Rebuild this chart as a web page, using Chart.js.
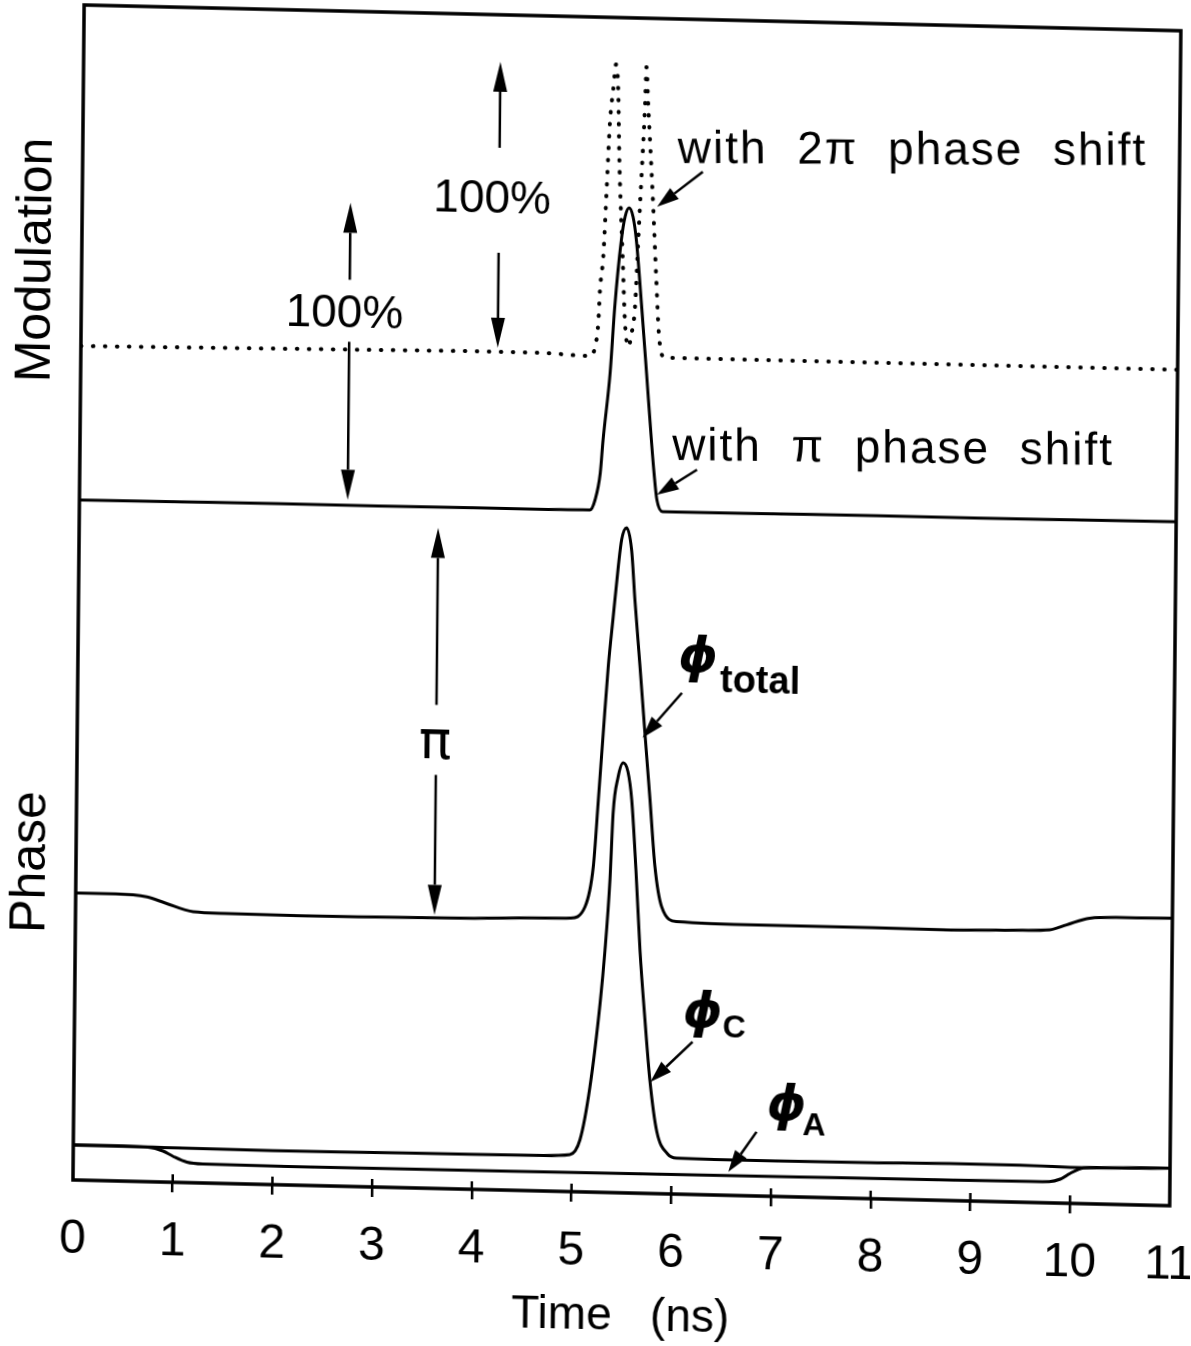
<!DOCTYPE html>
<html>
<head>
<meta charset="utf-8">
<title>Modulation and phase vs time</title>
<script src="https://cdn.jsdelivr.net/npm/chart.js@4.4.1/dist/chart.umd.min.js"></script>
<style>
  html, body { margin: 0; padding: 0; background: #fff; overflow: hidden; }
  #wrap { position: relative; width: 1191px; height: 1346px; }
  /* the scanned figure is slightly skewed; follow it */
  #chart { position: absolute; left: 0; top: 0; transform-origin: 73px 1180px; transform: matrix(1, 0.0235, -0.0095, 1, 0, 0); }
</style>
</head>
<body>
<div id="wrap"><canvas id="chart" width="1191" height="1346"></canvas></div>
<script>
(function () {
  'use strict';

  // x axis: time in ns
  var timeTicks = [0, 1, 2, 3, 4, 5, 6, 7, 8, 9, 10, 11];

  // y is an arbitrary vertical offset (curves are stacked, no y scale shown)
  // modulation with pi phase shift (solid)
  var piShiftT = [0, 1, 2, 3, 4, 4.6, 5.05, 5.12, 5.17, 5.22, 5.245, 5.31, 5.35, 5.41, 5.445, 5.485, 5.525, 5.56, 5.62, 5.675, 5.73, 5.76, 5.79, 5.85, 6.0, 7, 8, 9, 10, 11];
  var piShiftV = [680, 680.5, 681, 681, 681.5, 681.5, 682, 682, 692, 719, 752, 820, 886, 953, 976, 985, 976, 953, 886, 820, 753, 720, 694, 682, 682, 682.5, 683, 683, 683.5, 684];

  // modulation with 2pi phase shift (dotted)
  var twoPiT = [0, 1, 2, 3, 4, 4.6, 5.07, 5.12, 5.155, 5.186, 5.2, 5.23, 5.257, 5.284, 5.314, 5.339, 5.364, 5.381, 5.4, 5.424, 5.454, 5.489, 5.522, 5.553, 5.579, 5.607, 5.634, 5.645, 5.667, 5.687, 5.726, 5.76, 5.8, 5.858, 6.0, 7, 8, 9, 10, 11];
  var twoPiV = [834, 835, 836, 837, 838, 838, 836, 836, 845, 869, 902, 936, 1002, 1070, 1103, 1128, 1103, 1036, 987, 936, 870, 846, 860, 886, 953, 1020, 1087, 1126, 1087, 1054, 987, 921, 854, 836, 836, 836, 836, 836, 836, 836];

  // phase: total
  var phiTotalT = [0, 0.4, 0.715, 0.9, 1.18, 1.5, 2.25, 3, 4, 4.76, 4.96, 5.108, 5.188, 5.232, 5.275, 5.319, 5.364, 5.41, 5.441, 5.49, 5.542, 5.58, 5.637, 5.693, 5.75, 5.806, 5.877, 6.03, 6.865, 8, 8.77, 9.5, 9.77, 9.94, 10.17, 10.5, 11];
  var phiTotalV = [287, 287, 284.7, 279, 271, 270, 269.5, 270, 271, 273, 273.4, 285, 325.5, 392, 459.5, 526, 576, 626, 653, 665, 643, 593, 527, 460, 394, 327, 287, 272.5, 271, 271, 270.6, 272, 273, 278.4, 285.6, 287, 287.4];

  // phase: phi C
  var phiCT = [0, 0.5, 1, 2, 3, 4, 4.7, 4.98, 5.08, 5.175, 5.27, 5.313, 5.356, 5.382, 5.427, 5.478, 5.527, 5.567, 5.616, 5.664, 5.721, 5.776, 5.85, 5.96, 6.05, 7, 8, 8.79, 9.5, 10.13, 11];
  var phiCV = [35, 35, 34.5, 34, 34.5, 35, 35.5, 37, 52, 105, 190, 242, 312, 380, 415, 430, 421, 393, 323, 243, 173, 113, 62, 40, 36, 35.5, 36, 37, 37, 36, 37.5];

  // phase: phi A
  var phiAT = [0, 0.5, 0.75, 0.9, 1.0, 1.14, 1.3, 2.28, 3.28, 5, 7.29, 8.79, 9.6, 9.79, 9.9, 10.0, 10.13, 10.3, 11];
  var phiAV = [35, 35, 34.5, 31, 26, 20.5, 19, 18.6, 18.7, 19.3, 20.1, 20.6, 21, 21.3, 24, 30, 35.7, 36.5, 37.5];

  var FONT = '"Liberation Sans", Arial, Helvetica, sans-serif';

  // text labels placed in data coordinates (tilt undoes part of the page skew)
  var notes = [
    { text: 'with  2\u03c0  phase  shift', x: 5.97, y: 1031, font: '46px ' + FONT, align: 'left', spacing: '2px', tilt: -0.019 },
    { text: 'with  \u03c0  phase  shift', x: 5.94, y: 734, font: '46px ' + FONT, align: 'left', spacing: '2px', tilt: -0.012 },
    { text: '100%', x: 4.11, y: 977, font: '46px ' + FONT, align: 'center' },
    { text: '100%', x: 2.64, y: 859, font: '46px ' + FONT, align: 'center' },
    { text: '\u03c0', x: 3.59, y: 430, font: '54px "DejaVu Sans"', align: 'center' },
    { text: '\u03d5', x: 6.02, y: 522, font: 'bold oblique 50px "DejaVu Sans"', align: 'left' },
    { text: 'total', x: 6.44, y: 503, font: 'bold 38px ' + FONT, align: 'left' },
    { text: '\u03d5', x: 6.10, y: 167, font: 'bold oblique 50px "DejaVu Sans"', align: 'left' },
    { text: 'C', x: 6.5, y: 158, font: 'bold 32px ' + FONT, align: 'left' },
    { text: '\u03d5', x: 6.95, y: 76, font: 'bold oblique 50px "DejaVu Sans"', align: 'left' },
    { text: 'A', x: 7.31, y: 62, font: 'bold 32px ' + FONT, align: 'left' }
  ];

  // arrows: from (x1,y1) to head at (x2,y2)
  var arrows = [
    { x1: 6.22, y1: 1022.8, x2: 5.765, y2: 986.7, head: 22 },
    { x1: 6.19, y1: 724.7, x2: 5.79, y2: 698.7, head: 22 },
    { x1: 6.06, y1: 501.3, x2: 5.67, y2: 455.4, head: 22 },
    { x1: 6.2, y1: 152.6, x2: 5.78, y2: 111.6, head: 22 },
    { x1: 6.85, y1: 64.1, x2: 6.57, y2: 23.4, head: 22 },
    { x1: 4.18, y1: 1042, x2: 4.18, y2: 1128, head: 30 },
    { x1: 4.18, y1: 937, x2: 4.18, y2: 842, head: 30 },
    { x1: 2.69, y1: 906.5, x2: 2.69, y2: 983.5, head: 30 },
    { x1: 2.69, y1: 844.5, x2: 2.69, y2: 686.5, head: 30 },
    { x1: 3.6, y1: 483.5, x2: 3.6, y2: 660.5, head: 30 },
    { x1: 3.6, y1: 413.5, x2: 3.6, y2: 273.6, head: 30 }
  ];

  var sideTitles = [
    { text: 'Modulation', y: 919 },
    { text: 'Phase', y: 317 }
  ];

  function toPoints(ts, vs) {
    return ts.map(function (t, i) { return { x: t, y: vs[i] }; });
  }

  function drawArrow(ctx, x1, y1, x2, y2, head) {
    var ang = Math.atan2(y2 - y1, x2 - x1);
    var hw = 7;
    var bx = x2 - head * Math.cos(ang);
    var by = y2 - head * Math.sin(ang);
    ctx.beginPath();
    ctx.moveTo(x1, y1);
    ctx.lineTo(bx, by);
    ctx.stroke();
    ctx.beginPath();
    ctx.moveTo(x2, y2);
    ctx.lineTo(bx + hw * Math.sin(ang), by - hw * Math.cos(ang));
    ctx.lineTo(bx - hw * Math.sin(ang), by + hw * Math.cos(ang));
    ctx.closePath();
    ctx.fill();
  }

  var framePlugin = {
    id: 'frameAndNotes',
    afterDraw: function (chart) {
      var ctx = chart.ctx;
      var a = chart.chartArea;
      var xs = chart.scales.x;
      var ys = chart.scales.y;
      ctx.save();
      ctx.strokeStyle = '#000';
      ctx.fillStyle = '#000';

      // box
      ctx.lineWidth = 3.5;
      ctx.strokeRect(a.left, a.top, a.right - a.left, a.bottom - a.top);

      // inner half of the tick marks
      ctx.lineWidth = 2.5;
      timeTicks.forEach(function (t) {
        if (t === timeTicks[0] || t === timeTicks[timeTicks.length - 1]) return;
        var px = xs.getPixelForValue(t);
        ctx.beginPath();
        ctx.moveTo(px, a.bottom);
        ctx.lineTo(px, a.bottom - 8);
        ctx.stroke();
      });

      // arrows
      ctx.lineWidth = 2.5;
      arrows.forEach(function (r) {
        drawArrow(ctx, xs.getPixelForValue(r.x1), ys.getPixelForValue(r.y1),
          xs.getPixelForValue(r.x2), ys.getPixelForValue(r.y2), r.head);
      });

      // labels
      ctx.textBaseline = 'alphabetic';
      notes.forEach(function (n) {
        ctx.save();
        ctx.font = n.font;
        ctx.textAlign = n.align;
        ctx.letterSpacing = n.spacing || '0px';
        ctx.translate(xs.getPixelForValue(n.x), ys.getPixelForValue(n.y));
        if (n.tilt) ctx.rotate(n.tilt);
        ctx.fillText(n.text, 0, 0);
        ctx.restore();
      });

      // rotated side titles
      ctx.font = '50px ' + FONT;
      ctx.textAlign = 'center';
      ctx.textBaseline = 'middle';
      sideTitles.forEach(function (s) {
        ctx.save();
        ctx.translate(a.left - 45, ys.getPixelForValue(s.y));
        ctx.rotate(-Math.PI / 2);
        ctx.fillText(s.text, 0, 0);
        ctx.restore();
      });
      ctx.restore();
    }
  };

  var lineStyle = {
    borderColor: '#000',
    borderWidth: 3,
    pointRadius: 0,
    fill: false,
    cubicInterpolationMode: 'monotone'
  };

  function series(label, ts, vs, extra) {
    var d = Object.assign({ label: label, data: toPoints(ts, vs) }, lineStyle);
    return Object.assign(d, extra || {});
  }

  new Chart(document.getElementById('chart'), {
    type: 'line',
    data: {
      datasets: [
        series('with 2\u03c0 phase shift', twoPiT, twoPiV, { borderDash: [0.5, 11.5], borderCapStyle: 'round', borderWidth: 4 }),
        series('with \u03c0 phase shift', piShiftT, piShiftV),
        series('\u03d5 total', phiTotalT, phiTotalV),
        series('\u03d5 C', phiCT, phiCV),
        series('\u03d5 A', phiAT, phiAV)
      ]
    },
    options: {
      responsive: false,
      animation: false,
      layout: { padding: { left: 73, right: 21, top: 5, bottom: 0 } },
      plugins: {
        legend: { display: false },
        tooltip: { enabled: false }
      },
      scales: {
        x: {
          type: 'linear',
          min: timeTicks[0],
          max: timeTicks[timeTicks.length - 1],
          afterFit: function (scale) {
            scale.height = 166;
            // end labels may overhang the box, as in the figure
            scale.paddingLeft = 0;
            scale.paddingRight = 0;
          },
          afterBuildTicks: function (scale) {
            scale.ticks = timeTicks.map(function (v) { return { value: v }; });
          },
          border: { display: false },
          grid: {
            drawOnChartArea: false,
            drawTicks: true,
            tickLength: 10,
            lineWidth: 2.5,
            color: function (c) {
              var v = c.tick ? c.tick.value : null;
              return (v === timeTicks[0] || v === timeTicks[timeTicks.length - 1]) ? 'rgba(0,0,0,0)' : '#000';
            }
          },
          ticks: {
            color: '#000',
            padding: 21,
            maxRotation: 0,
            autoSkip: false,
            font: { family: FONT, size: 48 }
          },
          title: {
            display: true,
            text: 'Time   (ns)',
            color: '#000',
            padding: { top: 0, bottom: 14 },
            font: { family: FONT, size: 46 }
          }
        },
        y: {
          display: false,
          min: 0,
          max: 1175
        }
      }
    },
    plugins: [framePlugin]
  });
})();
</script>
</body>
</html>
